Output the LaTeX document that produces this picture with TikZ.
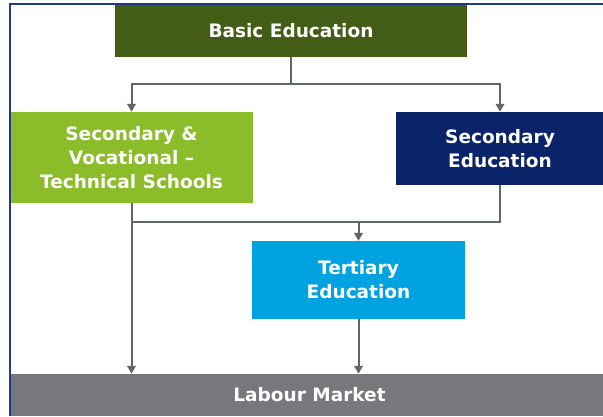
\documentclass[tikz,border=0pt]{standalone}
\usepackage{fontspec}
\setmainfont{DejaVu Sans}
\usetikzlibrary{positioning}
\usetikzlibrary{arrows.meta}
\usetikzlibrary{calc}
\definecolor{basicgreen}{HTML}{435C16}
\definecolor{vocgreen}{HTML}{8BBD2B}
\definecolor{seconavy}{HTML}{0A2369}
\definecolor{tertblue}{HTML}{00A3E0}
\definecolor{labourgray}{HTML}{76787B}
\definecolor{linkgray}{HTML}{5F6670}
\definecolor{framenavy}{HTML}{1F3A8A}
\tikzstyle{stage}=[rectangle,inner sep=0pt,text=white,align=center,font=\fontsize{18.5}{24}\selectfont\bfseries]
\tikzstyle{edge} = [draw,line width=2pt,linkgray,-{Triangle[length=8pt,width=8.5pt]}]
\tikzstyle{link} = [draw,line width=2pt,linkgray]

\begin{document}
\begin{tikzpicture}[x=1pt,y=-1pt]
    \useasboundingbox (0,0) rectangle (603,416);
    \clip (0,0) rectangle (603,416);
    \fill[white] (0,0) rectangle (603,416);

    % boxes
    \foreach \pos/\name/\col/\w/\h/\txt in {
        {(291,31)/basic/basicgreen/352/52/Basic Education},
        {(131.5,157.5)/secvoc/vocgreen/243/91/{Secondary \&\\Vocational --\\Technical Schools}},
        {(500,148.5)/secedu/seconavy/208/73/{Secondary\\Education}},
        {(358.5,280)/tertiary/tertblue/213/78/{Tertiary\\Education}},
        {(309.5,395)/labour/labourgray/599/42/Labour Market}}
        \node[stage,fill=\col,minimum width=\w pt,minimum height=\h pt] (\name) at \pos {\txt};

    \coordinate (split) at (291,84);
    \coordinate (join) at (358.5,222);

    % from basic education
    \path[link] (basic) -- (split);
    \path[edge] (split) -| (secvoc.north);
    \path[edge] (split) -| (secedu.north);

    % towards tertiary and labour market
    \path[link] (secedu.south) |- (secvoc.south |- join);
    \path[edge] (join) -- (tertiary.north);
    \path[edge] (secvoc.south) -- (secvoc.south |- labour.north);
    \path[edge] (tertiary.south) -- (tertiary.south |- labour.north);

    \draw[framenavy,line width=2.5pt] (10,416) -- (10,4) -- (603,4);
\end{tikzpicture}
\end{document}
